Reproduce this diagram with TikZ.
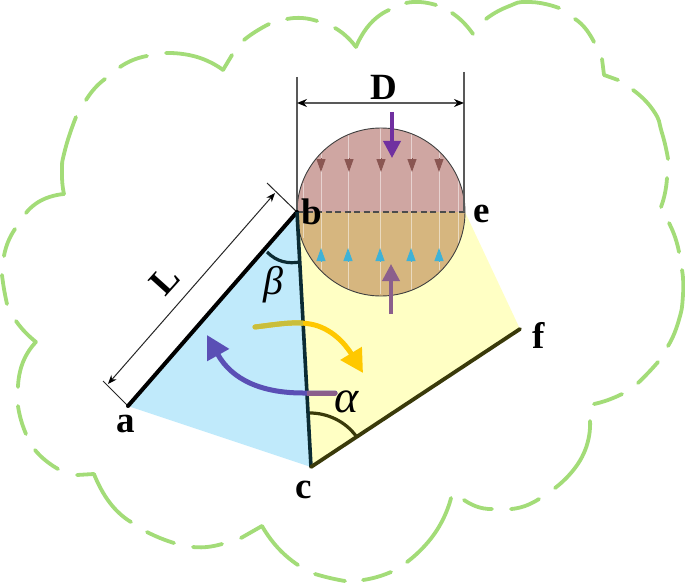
\documentclass[tikz,border=0pt]{standalone}
\usepackage{fontspec}
\setmainfont{Liberation Serif}
\usetikzlibrary{arrows.meta}
\definecolor{cloudgreen}{HTML}{A3DC78}
\definecolor{skyfill}{HTML}{C0EAFB}
\definecolor{lemonfill}{HTML}{FFFFC4}
\definecolor{rosefill}{HTML}{CFA6A2}
\definecolor{tanfill}{HTML}{D6B67F}
\definecolor{gold}{HTML}{FFC800}
\definecolor{goldmix}{HTML}{C9BE3C}
\definecolor{violet2}{HTML}{5A4FB5}
\definecolor{violetmix}{HTML}{8B5F8C}
\definecolor{deeppurple}{HTML}{7030A0}
\definecolor{smallred}{HTML}{8A5652}
\definecolor{smallblue}{HTML}{3FB2D6}
\definecolor{tealdark}{HTML}{0B2B33}
\definecolor{olivedark}{HTML}{3A3A0A}
\tikzset{
  cloudseg/.style={draw=cloudgreen,line width=3.8pt,line cap=round,line join=miter},
  letterlabel/.style={font=\fontsize{37}{38}\selectfont\bfseries,inner sep=0pt},
  betalabel/.style={font=\fontsize{40}{41}\selectfont\itshape,inner sep=0pt},
  alphalabel/.style={font=\fontsize{46}{47}\selectfont\itshape,inner sep=0pt},
  dimgrey/.style={draw=black!65,line width=1.5pt},
  thinline/.style={draw=black!85,line width=1pt},
  flowline/.style={draw=white,line width=1pt,opacity=.5},
  bigtip/.style={-{Triangle[width=17pt,length=17pt]},line width=3.6pt},
  smalltip/.style={-{Triangle[width=9pt,length=13pt]},line width=1pt},
}
\newcommand{\seg}[1]{\draw[cloudseg] plot[smooth,tension=1] coordinates {#1};}
\begin{document}
\begin{tikzpicture}[x=1pt,y=-1pt]
\useasboundingbox (0,0) rectangle (685,583);
\coordinate (a) at (128,406);
\coordinate (b) at (297,212);
\coordinate (c) at (311,467);
\coordinate (e) at (465,212);
\coordinate (f) at (520,329);
\coordinate (o) at (381,212);
% cloud
\seg{(2,275)(4,289)(7,304)}
\seg{(4,256)(8,242)(15,229)}
\seg{(26,213)(42,200)(64,194)}
\seg{(64,194)(62,173)(65,150)(76,117)}
\seg{(86,100)(95,88)(105,79)}
\seg{(120,67)(133,60)(147,56)}
\seg{(166,53)(197,57)(223,70)}
\seg{(223,70)(232,55)}
\seg{(244,40)(255,32)(269,24)}
\seg{(287,19)(302,18)(317,21)}
\seg{(335,28)(346,36)(356,47)}
\seg{(356,47)(370,24)(389,10)}
\seg{(406,3)(420,2)(436,5)}
\seg{(452,13)(463,22)(473,34)}
\seg{(486,19)(507,7)(530,2)(559,8)}
\seg{(575,19)(585,28)(594,42)}
\seg{(602,59)(604,75)}
\seg{(604,75)(618,80)}
\seg{(633,90)(653,110)(662,133)(668,159)}
\seg{(667,178)(665,193)(661,207)}
\seg{(669,223)(675,237)(679,252)}
\seg{(682,270)(683,295)(678,323)(668,346)}
\seg{(658,362)(648,373)(638,383)}
\seg{(622,394)(608,400)(594,404)}
\seg{(590,421)(582,457)(555,488)}
\seg{(539,499)(525,506)(511,509)}
\seg{(492,509)(478,507)(464,500)}
\seg{(451,498)(435,533)(407,562)}
\seg{(391,572)(377,577)(363,580)}
\seg{(345,581)(330,578)(315,574)}
\seg{(298,565)(278,548)(262,526)}
\seg{(262,526)(241,538)}
\seg{(222,544)(207,547)(193,547)}
\seg{(174,543)(160,538)(147,532)}
\seg{(131,522)(110,503)(94,474)}
\seg{(94,474)(77,475)}
\seg{(58,469)(45,460)(35,450)}
\seg{(26,434)(21,420)(18,406)}
\seg{(18,387)(23,362)(36,342)}
\seg{(36,342)(25,332)(16,321)}
% fills
\fill[lemonfill] (b) -- (e) -- (f) -- (c) -- cycle;
\fill[skyfill] (a) -- (b) -- (c) -- cycle;
% circle
\fill[rosefill] (297,212) arc[start angle=180,end angle=0,radius=84,y radius=-84];
\fill[tanfill] (297,212) arc[start angle=180,end angle=360,radius=84,y radius=-84];
\foreach \xx/\yy/\zz in {303/183/238,321/152/270,348/133/291,380/128/294,411/133/291,439/152/270,458/178/246}
  \draw[flowline] (\xx,\yy) -- (\xx,\zz);
\foreach \xx in {321,349,381,412,439}
  \draw[smalltip,smallred] (\xx,158) -- (\xx,172);
\foreach \xx in {321,348,380,411,439}
  \draw[smalltip,smallblue] (\xx,262) -- (\xx,248);
\draw[draw=black!75,line width=.9pt] (o) circle[radius=84];
\draw[draw=black!70,line width=1.3pt,dash pattern=on 6pt off 3.5pt] (b) -- (e);
% dimension D
\coordinate (dlt) at (297,77);
\coordinate (drt) at (464,72);
\coordinate (dl) at (297,103);
\coordinate (dr) at (464,103);
\draw[dimgrey] (dlt) -- (b);
\draw[dimgrey] (drt) -- (464,212);
\draw[dimgrey,{Stealth[length=10pt,width=8pt,black]}-{Stealth[length=10pt,width=8pt,black]}] (dl) -- (dr);
% dimension L
\coordinate (lt) at (267,183);
\coordinate (lb) at (103,381);
\draw[thinline] (lt) -- (b);
\draw[thinline] (lb) -- (a);
\draw[thinline,{Stealth[length=9pt,width=7pt,black]}-{Stealth[length=9pt,width=7pt,black]}] (108,384) -- (275,193);
% edges
\draw[black,line width=4pt,line cap=round] (a) -- (b);
\draw[tealdark,line width=3.6pt] (b) -- (c);
\draw[olivedark,line width=3.8pt,line cap=round] (c) -- (f);
% angle arcs
\coordinate (b1) at (267,252);
\coordinate (b2) at (300,262);
\coordinate (c1) at (310,413);
\coordinate (c2) at (356,436);
\draw[tealdark,line width=3.2pt] (b1) .. controls (277,262) and (288,264) .. (b2);
\draw[olivedark,line width=3.2pt] (c1) .. controls (327,413) and (345,421) .. (c2);
% curved arrows
\coordinate (ys) at (255,327);
\coordinate (ye) at (363,373);
\coordinate (ps) at (335,393);
\coordinate (pe) at (207,335);
\draw[gold,line width=5pt,line cap=round,-{Triangle[width=24pt,length=23pt]}] (ys) .. controls (280,324) and (300,320) .. (318,326) .. controls (338,333) and (349,350) .. (ye);
\begin{scope}
\clip (a) -- (b) -- (c) -- cycle;
\draw[goldmix,line width=5pt,line cap=round] (ys) .. controls (280,324) and (300,320) .. (318,326);
\end{scope}
\draw[violet2,line width=5pt,line cap=round,-{Triangle[width=24pt,length=23pt]}] (ps) -- (303,393) .. controls (262,393) and (232,380) .. (pe);
\begin{scope}
\clip (b) -- (e) -- (f) -- (c) -- cycle;
\draw[violetmix,line width=5pt,line cap=round] (ps) -- (303,393);
\end{scope}
% straight arrows
\coordinate (ta) at (392,112);
\coordinate (tb) at (392,158);
\coordinate (ua) at (391,314);
\coordinate (ub) at (391,264);
\draw[deeppurple,bigtip] (ta) -- (tb);
\draw[violetmix,bigtip] (ua) -- (ub);
% labels
\node[letterlabel] (lblb) at (312,212) {b};
\node[letterlabel] (lble) at (482,214) {e};
\node[letterlabel] (lblf) at (539,335) {f};
\node[letterlabel] (lbla) at (126,424) {a};
\node[letterlabel] (lblc) at (304,490) {c};
\node[letterlabel] (lbld) at (384,87) {D};
\node[letterlabel,rotate=48] (lbll) at (165,280) {L};
\node[betalabel] (lblbeta) at (273,285) {β};
\node[alphalabel] (lblalpha) at (347,402) {α};
\end{tikzpicture}
\end{document}
